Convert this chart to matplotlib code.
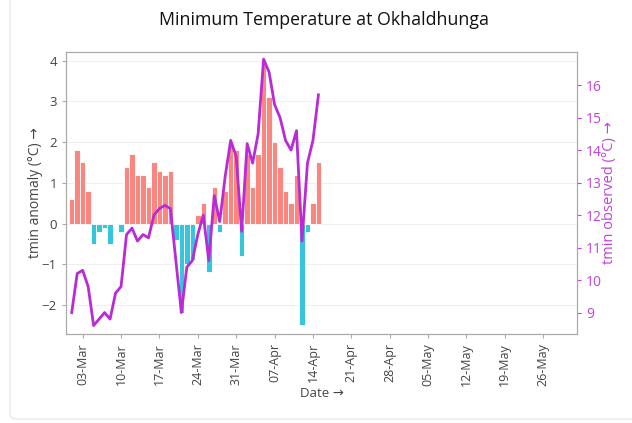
import matplotlib
matplotlib.use("Agg")
import matplotlib.pyplot as plt
import matplotlib.dates as mdates
from matplotlib.patches import FancyBboxPatch
import numpy as np
import pandas as pd

plt.rcParams['font.family'] = ['Open Sans', 'DejaVu Sans']

dates = pd.date_range("2023-03-01", "2023-04-15", freq="D")
anomaly = [0.6, 1.8, 1.5, 0.8, -0.5, -0.2, -0.1, -0.5, 0.0, -0.2,
           1.4, 1.7, 1.2, 1.2, 0.9, 1.5, 1.3, 1.2, 1.3, -0.4,
           -2.2, -1.0, -0.9, 0.2, 0.5, -1.2, 0.9, -0.2, 0.8, 2.0,
           1.8, -0.8, 1.7, 0.9, 1.7, 3.9, 3.1, 2.0, 1.4, 0.8,
           0.5, 1.2, -2.5, -0.2, 0.5, 1.5]
observed = [9.0, 10.2, 10.3, 9.8, 8.6, 8.8, 9.0, 8.8, 9.6, 9.8,
            11.4, 11.6, 11.2, 11.4, 11.3, 12.0, 12.2, 12.3, 12.2, 10.6,
            9.0, 10.4, 10.6, 11.4, 12.0, 10.6, 12.6, 11.8, 13.2, 14.3,
            13.8, 11.5, 14.2, 13.6, 14.5, 16.8, 16.4, 15.4, 15.0, 14.3,
            14.0, 14.6, 11.2, 13.6, 14.3, 15.7]
tick_dates = pd.date_range("2023-03-03", "2023-05-26", freq="7D")

title = "Minimum Temperature at Okhaldhunga"
xlabel = "Date \u2192"
ylabel_left = "tmin anomaly (\u00b0C) \u2192"
ylabel_right = "tmin observed (\u00b0C) \u2192"

RED = "#F9877F"
CYAN = "#36C5DC"
PURPLE = "#B82BD6"
PURPLE_TXT = "#C043D9"

fig = plt.figure(figsize=(6.32, 4.23), dpi=100)
W, H = 632, 423
# card border
card = FancyBboxPatch((10 / W, 4 / H), 660 / W, 440 / H,
                      boxstyle="round,pad=0,rounding_size=0.012",
                      transform=fig.transFigure, facecolor="white",
                      edgecolor="#e4e4e4", linewidth=0.8, zorder=0)
fig.patches.append(card)

ax = fig.add_axes([66 / W, (H - 334) / H, 511 / W, 282 / H])
ax.set_zorder(1)
ax.patch.set_alpha(0)

colors = [RED if v >= 0 else CYAN for v in anomaly]
ax.bar(dates, anomaly, width=1.0, color=colors, edgecolor="white",
       linewidth=0.6, zorder=2)

start = pd.Timestamp("2023-03-01")
ax.set_xlim(mdates.date2num(start) - 1.04, mdates.date2num(start) + 92.16)
ax.set_ylim(-2.71, 4.21)
ax.set_yticks([-2, -1, 0, 1, 2, 3, 4])
ax.grid(axis="y", color="#efefef", linewidth=0.8, zorder=0)
ax.set_axisbelow(True)

ax.set_xticks(tick_dates)
ax.xaxis.set_major_formatter(mdates.DateFormatter("%d-%b"))

for s in ax.spines.values():
    s.set_color("#aaaaaa")
    s.set_linewidth(0.8)
ax.tick_params(axis="both", colors="#aaaaaa", labelcolor="#444444",
               length=3, width=0.8)
ax.tick_params(axis="y", labelsize=9.5)
ax.tick_params(axis="x", labelsize=9, labelrotation=90)
ax.set_xlabel(xlabel, fontsize=9.5, color="#444444", labelpad=1)
ax.set_ylabel(ylabel_left, fontsize=10, color="#444444", labelpad=-1)

ax2 = ax.twinx()
ax2.set_zorder(2)
ax2.patch.set_alpha(0)
ax2.plot(dates, observed, color=PURPLE, linewidth=2.0, solid_joinstyle="round",
         zorder=3)
ax2.set_ylim(8.34, 17.02)
ax2.set_yticks([9, 10, 11, 12, 13, 14, 15, 16])
ax2.tick_params(axis="y", colors=PURPLE_TXT, labelcolor=PURPLE_TXT,
                labelsize=10, length=3, width=0.8)
for s in ax2.spines.values():
    s.set_color("#aaaaaa")
    s.set_linewidth(0.8)
ax2.set_ylabel(ylabel_right, fontsize=10.5, color=PURPLE_TXT, labelpad=0)

fig.text(324 / W, 1 - 20 / H, title, ha="center", va="center", fontsize=12.8,
         color="#111111")

fig.savefig("out.png", dpi=100)
